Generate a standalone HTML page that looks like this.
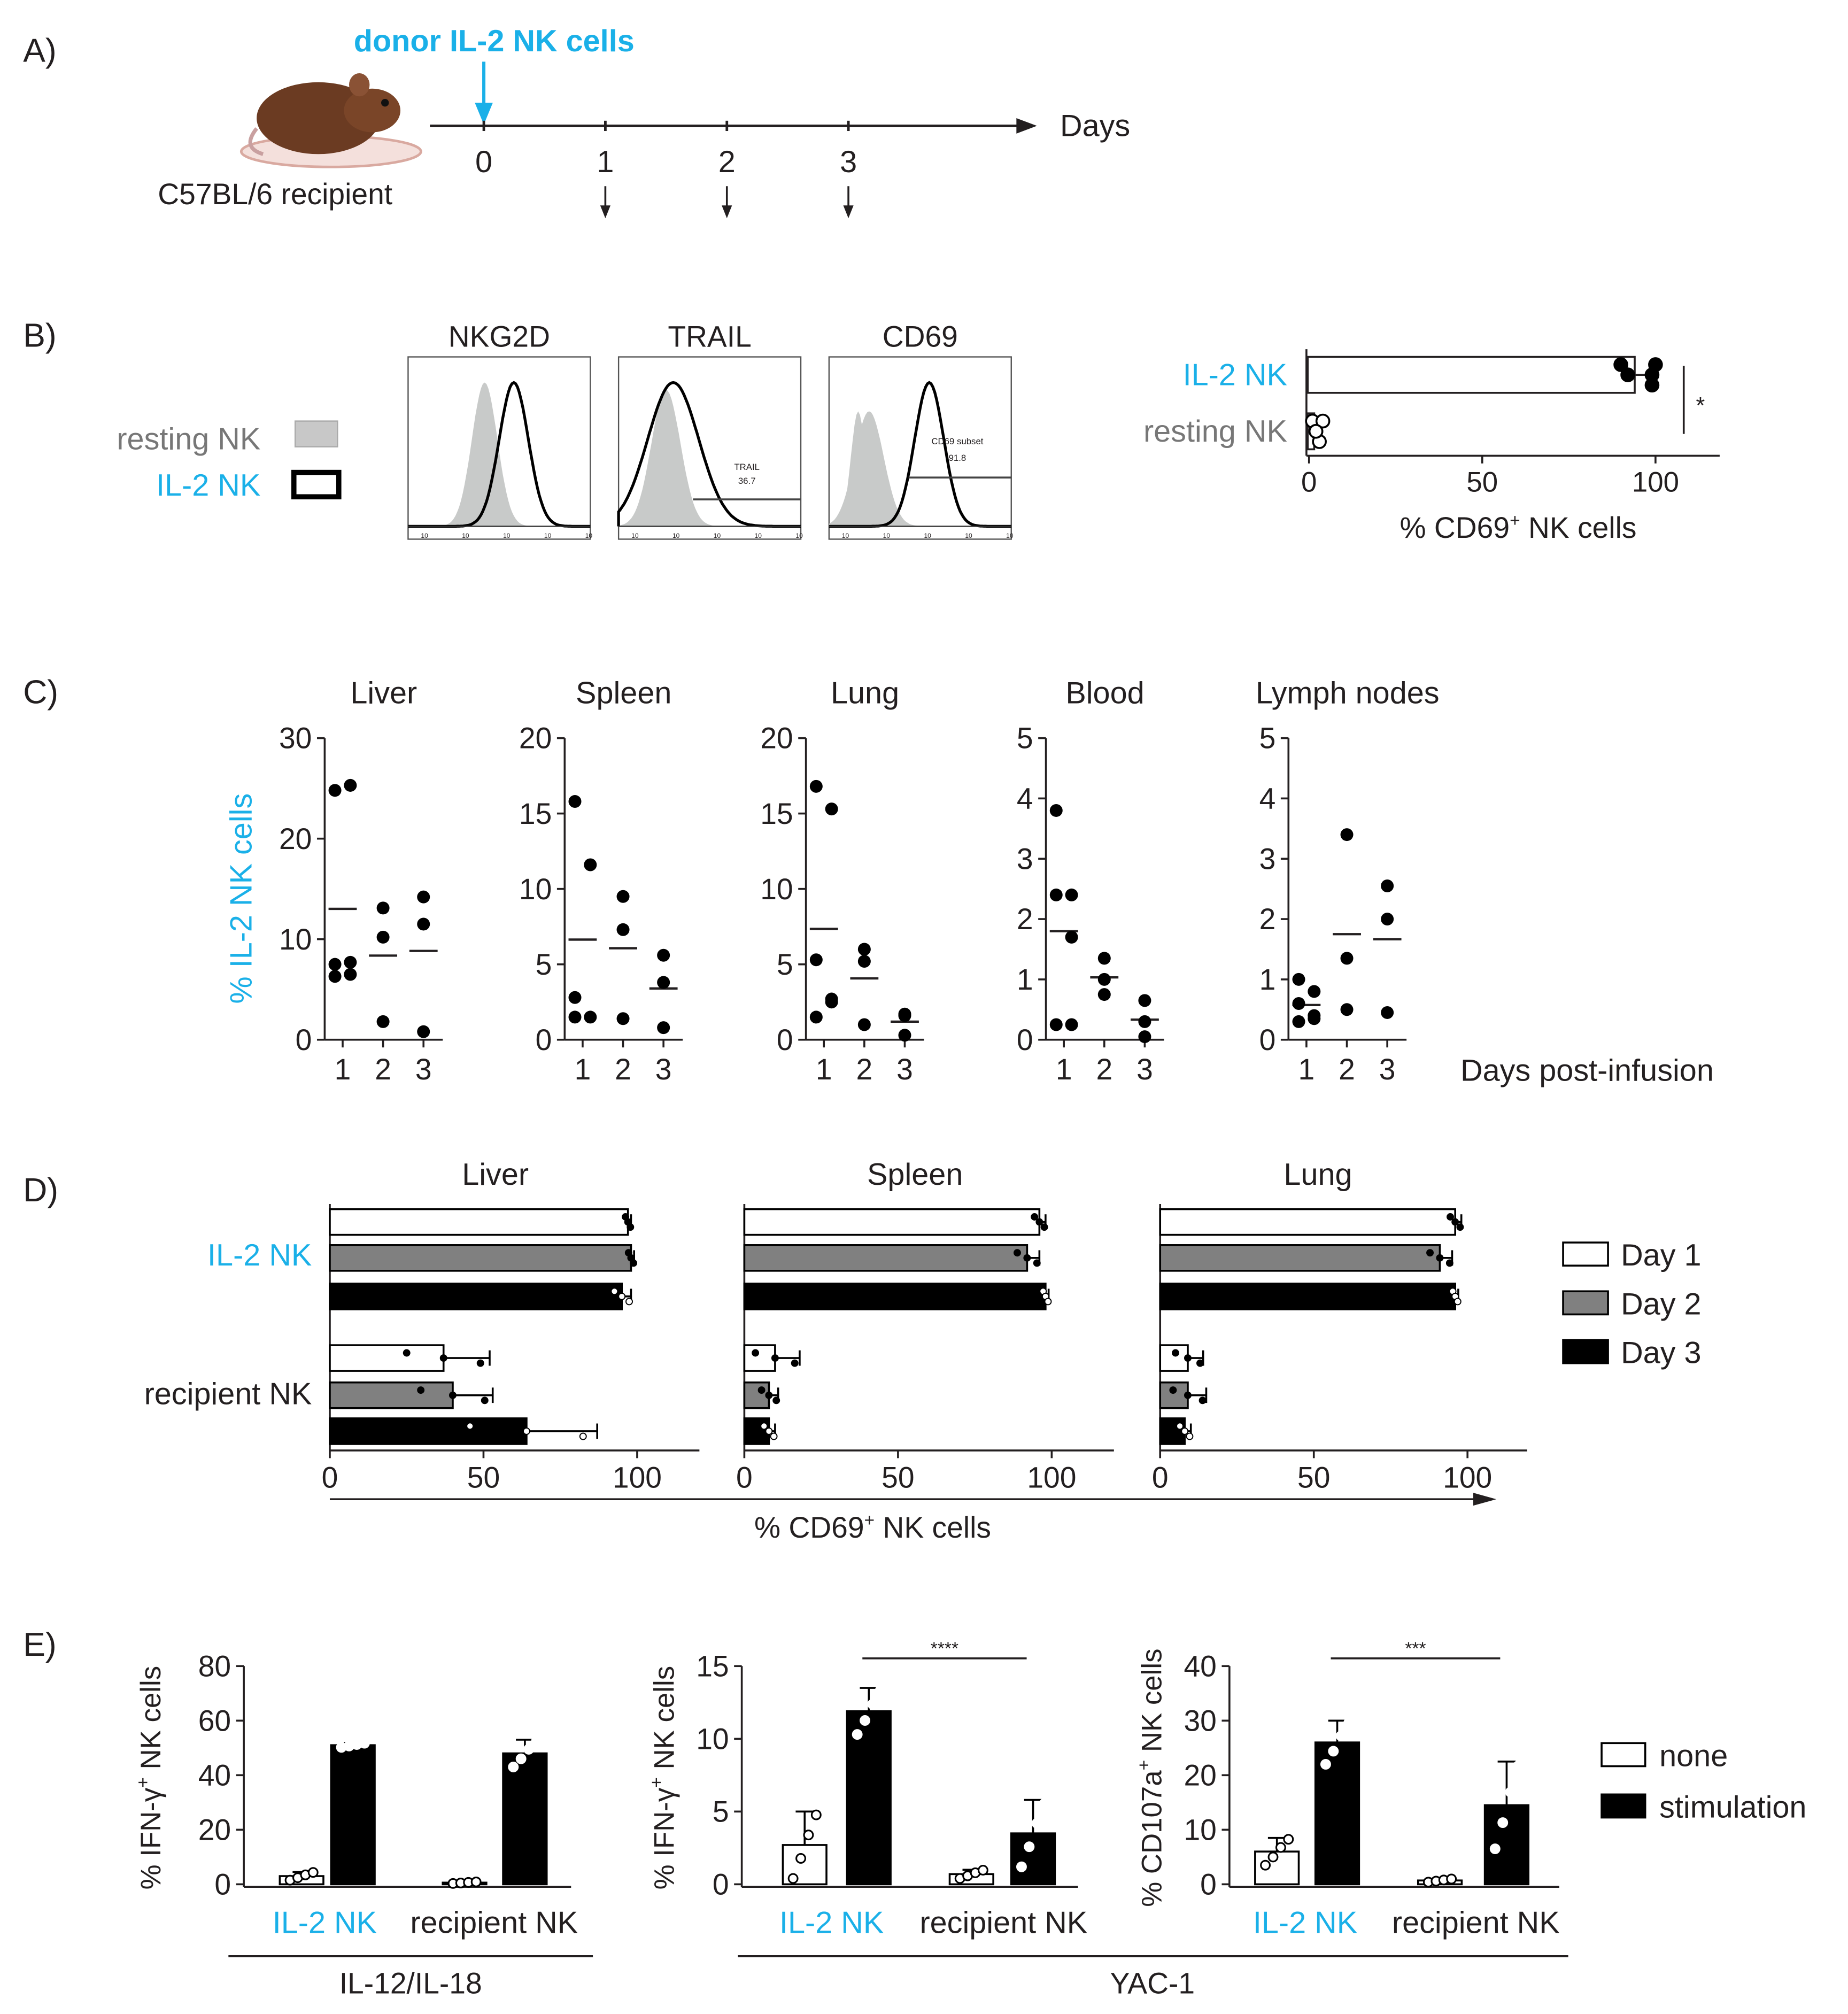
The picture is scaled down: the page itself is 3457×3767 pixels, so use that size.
<!DOCTYPE html>
<html><head><meta charset="utf-8"><style>
html,body{margin:0;padding:0;background:#fff}
svg{display:block}
text{font-family:"Liberation Sans",sans-serif;fill:#231f20}
</style></head><body>
<svg id="fig" xmlns="http://www.w3.org/2000/svg" width="3457" height="3767" viewBox="0 0 1440 1569">
<rect x="0" y="0" width="1440" height="1569" fill="#fff"/>
<g id="panelA">
<text x="18" y="48" font-size="26">A)</text>
<g>
<ellipse cx="258" cy="118" rx="70" ry="12" fill="#f4e0dc" stroke="#d9a9a0" stroke-width="2"/>
<ellipse cx="248" cy="92" rx="48" ry="28" fill="#6b3b22"/>
<ellipse cx="290" cy="86" rx="22" ry="17" fill="#7a4528"/>
<ellipse cx="280" cy="66" rx="8" ry="9" fill="#8a5235"/>
<circle cx="300" cy="80" r="3" fill="#111"/>
<path d="M200,100 Q188,115 205,120" stroke="#c9a0a0" stroke-width="3" fill="none"/>
</g>
<line x1="335" y1="98" x2="795" y2="98" stroke="#231f20" stroke-width="2"/>
<polygon points="792,92 808,98 792,104" fill="#231f20"/>
<text x="826" y="106" font-size="24">Days</text>
<text x="123" y="159" font-size="23">C57BL/6  recipient</text>
<text x="385" y="40" font-size="24" font-weight="bold" text-anchor="middle" style="fill:#1ab0e8">donor IL-2 NK cells</text>
<line x1="377" y1="48" x2="377" y2="84" stroke="#1ab0e8" stroke-width="2.5"/>
<polygon points="370,80 384,80 377,97" fill="#1ab0e8"/>
<g id="aTicks"></g>
</g>
<g id="panelB">
<text x="18" y="270" font-size="26">B)</text>
<text x="203" y="350" font-size="24" text-anchor="end" style="fill:#777">resting NK</text>
<rect x="230" y="328" width="33" height="20" fill="#c8c8c8" stroke="#aaa"/>
<text x="203" y="386" font-size="24" text-anchor="end" style="fill:#1ab0e8">IL-2 NK</text>
<rect x="229" y="368" width="35" height="19" fill="#fff" stroke="#000" stroke-width="4"/>
<g id="hists"></g>
<g id="bBar"></g>
</g>
<g id="panelC">
<text x="18" y="548" font-size="26">C)</text>
<text transform="translate(196,700) rotate(-90)" font-size="24" text-anchor="middle" style="fill:#1ab0e8">% IL-2 NK cells</text>
<text x="1138" y="842" font-size="24">Days post-infusion</text>
<g id="cPlots"></g>
</g>
<g id="panelD">
<text x="18" y="936" font-size="26">D)</text>
<text x="243" y="986" font-size="24" text-anchor="end" style="fill:#1ab0e8">IL-2 NK</text>
<text x="243" y="1094" font-size="24" text-anchor="end">recipient NK</text>
<line x1="257" y1="1168" x2="1150" y2="1168" stroke="#231f20" stroke-width="1.5"/>
<polygon points="1148,1163 1166,1168 1148,1173" fill="#231f20"/>
<text x="680" y="1198" font-size="23" text-anchor="middle">% CD69<tspan font-size="14" dy="-9">+</tspan><tspan dy="9"> NK cells</tspan></text>
<g id="dPlots"></g>
<g id="dLegend"></g>
</g>
<g id="panelE">
<text x="18" y="1290" font-size="26">E)</text>
<g id="ePlots"></g>
<line x1="178" y1="1524" x2="462" y2="1524" stroke="#231f20" stroke-width="1.5"/>
<text x="320" y="1553" font-size="23" text-anchor="middle">IL-12/IL-18</text>
<line x1="575" y1="1524" x2="1222" y2="1524" stroke="#231f20" stroke-width="1.5"/>
<text x="898" y="1553" font-size="23" text-anchor="middle">YAC-1</text>
<g id="eLegend"></g>
</g>
</svg>
<script>
// ---- Panel B bar chart data ----
const bCategories = ["IL-2 NK", "resting NK"];
const bMeans = [94, 1.5];
const bErrHi = [99, 3];
const bPoints = [[90, 92, 99, 100, 99], [1, 2, 3, 4, 2]];
// ---- Panel C data ----
const cTissues = ["Liver", "Spleen", "Lung", "Blood", "Lymph nodes"];
const cMax = [30, 20, 20, 5, 5];
const cTicks = [[0,10,20,30],[0,5,10,15,20],[0,5,10,15,20],[0,1,2,3,4,5],[0,1,2,3,4,5]];
const cDays = ["1","2","3"];
const cLiver = [[24.8,25.3,7.5,6.5,6.3,7.7],[13.1,10.2,1.8],[14.2,11.5,0.8]];
const cSpleen = [[15.8,11.6,2.8,1.5,1.5],[9.5,7.3,1.4],[5.6,3.8,0.8]];
const cLung = [[16.8,15.3,5.3,2.7,1.5,2.5],[6.0,5.2,1.0],[1.7,1.6,0.3]];
const cBlood = [[3.8,2.4,2.4,1.7,0.25,0.25],[1.35,1.0,0.75],[0.65,0.3,0.05]];
const cLymph = [[1.0,0.8,0.6,0.35,0.3,0.4],[3.4,1.35,0.5],[2.55,2.0,0.45]];
// ---- Panel D data ----
const dTissues = ["Liver","Spleen","Lung"];
const dDayLabels = ["Day 1","Day 2","Day 3"];
const dIL2 = [[97,98,95],[96,92,98],[96,91,96]];
const dIL2Err = [[1,1,3],[2,4,1],[2,4,1]];
const dRec = [[37,40,64],[10,8,8],[9,9,8]];
const dRecErr = [[15,13,23],[8,3,2],[5,6,2]];
const dTicks = [0,50,100];
// ---- Panel E data ----
const eGroups = ["IL-2 NK","recipient NK"];
const eTitles = ["% IFN-γ","% IFN-γ","% CD107a"];
const eMax = [80,15,40];
const eTicks = [[0,20,40,60,80],[0,5,10,15],[0,10,20,30,40]];
const eNone = [[3,0.6],[2.7,0.7],[6,0.7]];
const eStim = [[51,48],[11.9,3.5],[26,14.5]];
const eNoneErr = [[1.5,0.3],[2.3,0.3],[2.5,0.3]];
const eStimErr = [[0.8,5],[1.6,2.3],[4,8]];
const eSig = ["","****","***"];

const NS = "http://www.w3.org/2000/svg";
function mk(parent, tag, attrs, txt){
  const e = document.createElementNS(NS, tag);
  for (const k in attrs) e.setAttribute(k, attrs[k]);
  if (txt !== undefined) e.textContent = txt;
  parent.appendChild(e);
  return e;
}
const BLUE = "#1ab0e8", INK = "#231f20";

// Panel A ticks
(function(){
  const g = document.getElementById('aTicks');
  const days = ["0","1","2","3"];
  const x0 = 377, step = 94.7;
  days.forEach((d,i)=>{
    const x = x0 + i*step;
    const t = mk(g,'text',{x:x,y:134,'font-size':24,'text-anchor':'middle'},d);
    
    
    mk(g,'line',{x1:x,y1:94,x2:x,y2:102,stroke:INK,'stroke-width':2});
    if(i>0){
      mk(g,'line',{x1:x,y1:145,x2:x,y2:162,stroke:INK,'stroke-width':1.5});
      const a = mk(g,'polygon',{points:`${x-4},160 ${x+4},160 ${x},170`,fill:INK});
      
      
    }
  });
})();

// Panel B histograms
(function(){
  const g = document.getElementById('hists');
  const boxes = [318,482,646], titles = ["NKG2D","TRAIL","CD69"];
  const gray = [[0.42,0.07,1],[0.26,0.08,0.95],[0.22,0.08,0.8]];
  const blk = [[0.58,0.08,1],[0.3,0.14,1],[0.55,0.08,1]];
  boxes.forEach((bx,i)=>{
    const w=142, top=278, bot=420;
    const gg = mk(g,'g',{});
    
    
    const t = mk(g,'text',{x:bx+w/2,y:270,'font-size':23,'text-anchor':'middle'},titles[i]);
    
    
    mk(gg,'rect',{x:bx,y:top,width:w,height:bot-top,fill:'none',stroke:'#555','stroke-width':1});
    const base = bot-10, hgt = 112;
    function path(p, fillMode){
      let d = `M${bx},${base}`;
      for(let k=0;k<=100;k++){
        const u=k/100; let v = p[2]*Math.exp(-Math.pow(u-p[0],2)/(2*p[1]*p[1]));
        if(i===1 && !fillMode) v = Math.max(v, 0.98*Math.exp(-Math.pow(u-0.32,2)/(2*0.1*0.1)));
        if(i===2 && fillMode) v = Math.max(v, 0.8*Math.exp(-Math.pow(u-0.16,2)/(2*0.04*0.04)));
        d += ` L${(bx+u*w).toFixed(1)},${(base-v*hgt).toFixed(1)}`;
      }
      return d + ` L${bx+w},${base}` + (fillMode?' Z':'');
    }
    mk(gg,'path',{d:path(gray[i],true),fill:'#c8cac9',stroke:'none'});
    mk(gg,'path',{d:path(blk[i],false),fill:'none',stroke:'#000','stroke-width':2.2});
    mk(gg,'line',{x1:bx,y1:base,x2:bx+w,y2:base,stroke:'#333','stroke-width':1});
    for(let k=0;k<5;k++){ mk(gg,'text',{x:bx+10+k*32,y:bot-1,'font-size':5,fill:'#555'},'10'); }
    if(i===1){ mk(gg,'line',{x1:bx+58,y1:389,x2:bx+w,y2:389,stroke:'#444','stroke-width':1.5});
      mk(gg,'text',{x:bx+100,y:366,'font-size':7,'text-anchor':'middle'},'TRAIL');
      mk(gg,'text',{x:bx+100,y:377,'font-size':7,'text-anchor':'middle'},'36.7'); }
    if(i===2){ mk(gg,'line',{x1:bx+62,y1:372,x2:bx+w,y2:372,stroke:'#444','stroke-width':1.5});
      mk(gg,'text',{x:bx+100,y:346,'font-size':7,'text-anchor':'middle'},'CD69 subset');
      mk(gg,'text',{x:bx+100,y:359,'font-size':7,'text-anchor':'middle'},'91.8'); }
  });
})();

// Panel B bar chart
(function(){
  const g = document.getElementById('bBar');
  const x = v => 1020 + v*2.7;
  const rowY = [292, 336];
  mk(g,'line',{x1:1018,y1:272,x2:1018,y2:355,stroke:INK,'stroke-width':1.5});
  mk(g,'line',{x1:1018,y1:355,x2:1340,y2:355,stroke:INK,'stroke-width':1.5});
  [0,50,100].forEach(t=>{
    mk(g,'line',{x1:x(t),y1:355,x2:x(t),y2:361,stroke:INK,'stroke-width':1.5});
    const tl = mk(g,'text',{x:x(t),y:383,'font-size':22,'text-anchor':'middle'},String(t));
    
    
  });
  bCategories.forEach((c,i)=>{
    const y = rowY[i];
    const r = mk(g,'rect',{x:1019,y:y-14,width:x(bMeans[i])-1019,height:28,fill:'#fff',stroke:INK,'stroke-width':1.5});
    
    
    mk(g,'line',{x1:x(bMeans[i]),y1:y,x2:x(bErrHi[i]),y2:y,stroke:INK,'stroke-width':1.5});
    mk(g,'line',{x1:x(bErrHi[i]),y1:y-6,x2:x(bErrHi[i]),y2:y+6,stroke:INK,'stroke-width':1.5});
    bPoints[i].forEach((p,k)=>{
      mk(g,'circle',{cx:x(p),cy:y+((k%3)-1)*8,r:5,fill:i?'#fff':'#000',stroke:'#000','stroke-width':1.5});
    });
    const lab = mk(g,'text',{x:1003,y:y+8,'font-size':24,'text-anchor':'end',style:'fill:'+(i?'#777':BLUE)},c);
    
    
  });
  mk(g,'line',{x1:1312,y1:285,x2:1312,y2:338,stroke:INK,'stroke-width':1.5});
  mk(g,'text',{x:1325,y:322,'font-size':18,'text-anchor':'middle'},'*');
  const tt = mk(g,'text',{x:1183,y:419,'font-size':23,'text-anchor':'middle'},'% CD69');
  mk(tt,'tspan',{'font-size':14,dy:-9},'+');
  mk(tt,'tspan',{dy:9},' NK cells');
  
  
})();

// Panel C
(function(){
  const g = document.getElementById('cPlots');
  const axX = [253,440,628,815,1004];
  const data = [cLiver,cSpleen,cLung,cBlood,cLymph];
  const y0 = 810, y1 = 575;
  cTissues.forEach((tis,i)=>{
    const ax = axX[i];
    const gg = mk(g,'g',{});
    
    
    const y = v => y0 - v/cMax[i]*(y0-y1);
    const x = d => ax + 14 + d*31.5;
    const tt = mk(gg,'text',{x:ax+46,y:548,'font-size':24,'text-anchor':'middle'},tis);
    
    
    mk(gg,'line',{x1:ax,y1:y1,x2:ax,y2:y0,stroke:INK,'stroke-width':1.5});
    mk(gg,'line',{x1:ax,y1:y0,x2:ax+92,y2:y0,stroke:INK,'stroke-width':1.5});
    cTicks[i].forEach(t=>{
      mk(gg,'line',{x1:ax-6,y1:y(t),x2:ax,y2:y(t),stroke:INK,'stroke-width':1.5});
      mk(gg,'text',{x:ax-10,y:y(t)+8,'font-size':23,'text-anchor':'end'},String(t));
    });
    cDays.forEach((d,k)=>{
      mk(gg,'line',{x1:x(k),y1:y0,x2:x(k),y2:y0+6,stroke:INK,'stroke-width':1.5});
      mk(gg,'text',{x:x(k),y:841,'font-size':23,'text-anchor':'middle'},d);
      const pts = data[i][k];
      const mean = pts.reduce((a,b)=>a+b,0)/pts.length;
      mk(gg,'line',{x1:x(k)-11,y1:y(mean),x2:x(k)+11,y2:y(mean),stroke:INK,'stroke-width':1.8});
      pts.forEach((p,j)=>{
        const off = pts.length>3 ? (j%2?6:-6) : 0;
        const c = mk(gg,'circle',{cx:x(k)+off,cy:y(p),r:5,fill:'#000'});
        
        
      });
    });
  });
})();

// Panel D
(function(){
  const g = document.getElementById('dPlots');
  const x0s = [257,580,904], axEnd = [545,868,1190];
  const ilY = [952,980,1010], recY = [1058,1087,1115];
  const fills = ['#fff','#808080','#000'];
  dTissues.forEach((tis,i)=>{
    const gg = mk(g,'g',{});
    
    
    const x = v => x0s[i] + v*2.395;
    const tt = mk(gg,'text',{x:[386,713,1027][i],y:923,'font-size':24,'text-anchor':'middle'},tis);
    
    
    mk(gg,'line',{x1:x0s[i],y1:938,x2:x0s[i],y2:1130,stroke:INK,'stroke-width':1.5});
    mk(gg,'line',{x1:x0s[i],y1:1130,x2:axEnd[i],y2:1130,stroke:INK,'stroke-width':1.5});
    dTicks.forEach(t=>{
      mk(gg,'line',{x1:x(t),y1:1130,x2:x(t),y2:1136,stroke:INK,'stroke-width':1.5});
      mk(gg,'text',{x:x(t),y:1159,'font-size':23,'text-anchor':'middle'},String(t));
    });
    [[dIL2,dIL2Err,ilY],[dRec,dRecErr,recY]].forEach(([vals,errs,ys],gi)=>{
      vals[i].forEach((v,k)=>{
        const b = mk(gg,'rect',{x:x0s[i],y:ys[k]-10,width:x(v)-x0s[i],height:20,fill:fills[k],stroke:'#000','stroke-width':1.5});
        
        
        const e = x(v+errs[i][k]);
        mk(gg,'line',{x1:x(v),y1:ys[k],x2:e,y2:ys[k],stroke:'#000','stroke-width':1.5});
        mk(gg,'line',{x1:e,y1:ys[k]-6,x2:e,y2:ys[k]+6,stroke:'#000','stroke-width':1.5});
        [-0.8,0,0.8].forEach((f,j)=>{
          const pv = v + f*errs[i][k];
          mk(gg,'circle',{cx:x(pv),cy:ys[k]+(j-1)*4,r:2.5,fill:k===2?'#fff':'#000',stroke:'#000','stroke-width':0.8});
        });
      });
    });
  });
  const L = document.getElementById('dLegend');
  dDayLabels.forEach((d,k)=>{
    const yy = 968 + k*38;
    const r = mk(L,'rect',{x:1218,y:yy,width:35,height:18,fill:fills[k],stroke:'#000','stroke-width':1.5});
    
    
    const t = mk(L,'text',{x:1263,y:yy+18,'font-size':24},d);
    
    
  });
})();

// Panel E
(function(){
  const g = document.getElementById('ePlots');
  const axX = [190,578,958], axEnd = [445,840,1215];
  const barX = [[218,258,345,392],[610,660,740,788],[978,1025,1105,1157]];
  const labX = [[253,385],[648,782],[1017,1150]];
  const titleX = [125,525,905];
  const y0 = 1468, y1 = 1298;
  for(let i=0;i<3;i++){
    const gg = mk(g,'g',{});
    
    
    const y = v => y0 - v/eMax[i]*(y0-y1);
    mk(gg,'line',{x1:axX[i],y1:y1,x2:axX[i],y2:y0+2,stroke:INK,'stroke-width':1.5});
    mk(gg,'line',{x1:axX[i],y1:y0+2,x2:axEnd[i],y2:y0+2,stroke:INK,'stroke-width':1.5});
    eTicks[i].forEach(t=>{
      mk(gg,'line',{x1:axX[i]-6,y1:y(t),x2:axX[i],y2:y(t),stroke:INK,'stroke-width':1.5});
      mk(gg,'text',{x:axX[i]-10,y:y(t)+8,'font-size':23,'text-anchor':'end'},String(t));
    });
    const tt = mk(gg,'text',{transform:`translate(${titleX[i]},1385) rotate(-90)`,'font-size':22,'text-anchor':'middle'},eTitles[i]);
    mk(tt,'tspan',{'font-size':14,dy:-9},'+');
    mk(tt,'tspan',{dy:9},' NK cells');
    
    
    eGroups.forEach((gr,gi)=>{
      const lab = mk(gg,'text',{x:labX[i][gi],y:1506,'font-size':24,'text-anchor':'middle',style:'fill:'+(gi?INK:BLUE)},gr);
      
      
      [[eNone,eNoneErr,'#fff'],[eStim,eStimErr,'#000']].forEach(([vals,errs,fill],si)=>{
        const bx = barX[i][gi*2+si], w = 34, v = vals[i][gi];
        const cx = bx + w/2;
        mk(gg,'line',{x1:cx,y1:y(v),x2:cx,y2:y(v+errs[i][gi]),stroke:'#000','stroke-width':1.5});
        mk(gg,'line',{x1:cx-7,y1:y(v+errs[i][gi]),x2:cx+7,y2:y(v+errs[i][gi]),stroke:'#000','stroke-width':1.5});
        const b = mk(gg,'rect',{x:bx,y:y(v),width:w,height:y0-y(v),fill:fill,stroke:'#000','stroke-width':1.5});
        
        
        [-1,-0.4,0.3,0.9].forEach((f,j)=>{
          const pv = Math.max(0.2, v + f*errs[i][gi]);
          mk(gg,'circle',{cx:cx+(j-1.5)*6,cy:y(pv),r:3.5,fill:'#fff',stroke:si?'#fff':'#000','stroke-width':1.3});
        });
      });
    });
    if(eSig[i]){
      mk(gg,'line',{x1:barX[i][1]+12,y1:1292,x2:barX[i][3]+12,y2:1292,stroke:INK,'stroke-width':1.5});
      mk(gg,'text',{x:(barX[i][1]+barX[i][3])/2+12,y:1289,'font-size':14,'text-anchor':'middle'},eSig[i]);
    }
  }
  const L = document.getElementById('eLegend');
  [['none','#fff'],['stimulation','#000']].forEach(([n,f],k)=>{
    const yy = 1358 + k*40;
    const r = mk(L,'rect',{x:1248,y:yy,width:34,height:18,fill:f,stroke:'#000','stroke-width':1.5});
    
    
    const t = mk(L,'text',{x:1293,y:yy+18,'font-size':24},n);
    
    
  });
})();
</script>
</body></html>
